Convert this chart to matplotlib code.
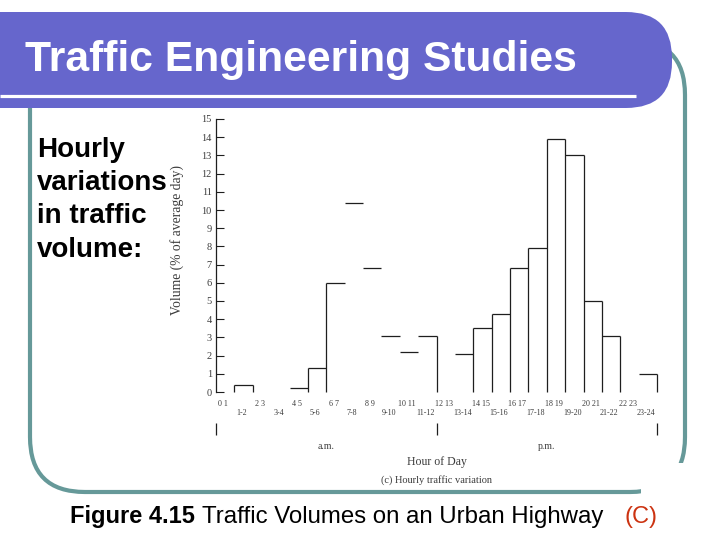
import matplotlib
matplotlib.use("Agg")
import matplotlib.pyplot as plt
from matplotlib.patches import FancyBboxPatch, Rectangle

# hourly volume, % of average day (hour 0-1 ... 23-24)
volumes = [0, 0.4, 0, 0, 0.2, 1.3, 6.0, 10.4, 6.8, 3.1, 2.2, 3.1,
           0, 2.1, 3.5, 4.3, 6.8, 7.9, 13.9, 13.0, 5.0, 3.1, 0, 1.0]
# bar sides that survived in the scanned figure
edges_drawn = [1, 2, 5, 6, 12, 14, 15, 16, 17, 18, 19, 20, 21, 22, 24]
hour_pairs = ["0 1", "2 3", "4 5", "6 7", "8 9", "10 11", "12 13",
              "14 15", "16 17", "18 19", "20 21", "22 23"]
hour_ranges = ["1-2", "3-4", "5-6", "7-8", "9-10", "11-12", "13-14",
               "15-16", "17-18", "19-20", "21-22", "23-24"]
side_text = ["Hourly", "variations", "in traffic", "volume:"]

SANS = "Liberation Sans"
SERIF = "Liberation Serif"
ink = "#1e1e1e"
gray = "#3c3c3c"

fig = plt.figure(figsize=(7.2, 5.4), dpi=100)

# slide background in pixel coordinates
bg = fig.add_axes([0, 0, 1, 1])
bg.set_xlim(0, 720)
bg.set_ylim(540, 0)
bg.axis("off")

frame = FancyBboxPatch((30, 40), 655, 452, boxstyle="round,pad=0,rounding_size=55",
                       fc="none", ec="#669999", lw=3)
bg.add_patch(frame)
bg.add_patch(Rectangle((641, 463), 60, 40, fc="white", ec="none"))
bar = FancyBboxPatch((-60, 12), 732, 96, boxstyle="round,pad=0,rounding_size=46",
                     fc="#6666CC", ec="none")
bg.add_patch(bar)
bg.plot([0, 636], [96, 96], color="white", lw=2.3, solid_capstyle="butt")

bg.text(25, 71, "Traffic Engineering Studies", color="white", fontsize=30.7,
        fontweight="bold", family=SANS, va="baseline")

for i, line in enumerate(side_text):
    bg.text(37, 157 + i * 33.2, line, fontsize=20, fontweight="bold",
            family=SANS, va="baseline", color="black")

bg.text(70, 523, "Figure 4.15", fontsize=17, fontweight="bold", family=SANS,
        va="baseline", color="black")
bg.text(202, 523, "Traffic Volumes on an Urban Highway", fontsize=17.3,
        family=SANS, va="baseline", color="black")
bg.text(625, 523, "(C)", fontsize=17, family=SANS, va="baseline", color="#CC3311")

# the histogram
ax = fig.add_axes([216 / 720, 148 / 540, 441 / 720, 273 / 540])
ax.patch.set_alpha(0)
ax.set_xlim(0, 24)
ax.set_ylim(0, 15)
for s in ["top", "right", "bottom"]:
    ax.spines[s].set_visible(False)
ax.spines["left"].set_linewidth(0.9)
ax.spines["left"].set_color(ink)

for h, v in enumerate(volumes):
    if v > 0:
        ax.hlines(v, h, h + 1, color=ink, lw=0.9, clip_on=False)
for e in edges_drawn:
    left = volumes[e - 1] if e >= 1 else 0
    right = volumes[e] if e < 24 else 0
    ax.vlines(e, 0, max(left, right), color=ink, lw=0.9, clip_on=False)

ax.set_yticks(range(16))
ax.set_xticks([])
ax.tick_params(axis="y", direction="in", length=6, width=0.8, color=ink,
               labelsize=7.5, labelcolor=gray, pad=3)
for t in ax.get_yticklabels():
    t.set_family(SERIF)
ax.set_ylabel("Volume (% of average day)", family=SERIF, fontsize=9.8, color=gray)
ax.yaxis.set_label_coords(-0.072, 0.557)

tr = ax.get_xaxis_transform()
for k, lab in enumerate(hour_pairs):
    ax.text(2 * k + 0.4, -0.044, lab, transform=tr, ha="center", va="center",
            family=SERIF, fontsize=5.8, color=gray)
for k, lab in enumerate(hour_ranges):
    ax.text(2 * k + 1.4, -0.077, lab, transform=tr, ha="center", va="center",
            family=SERIF, fontsize=5.8, color=gray)
ax.vlines([0, 12, 24], -0.114, -0.158, transform=tr, color=ink, lw=0.9, clip_on=False)
ax.text(6, -0.2, "a.m.", transform=tr, ha="center", va="center",
        family=SERIF, fontsize=7, color=gray)
ax.text(18, -0.2, "p.m.", transform=tr, ha="center", va="center",
        family=SERIF, fontsize=7, color=gray)
ax.text(12, -0.255, "Hour of Day", transform=tr, ha="center", va="center",
        family=SERIF, fontsize=8.5, color=gray)
ax.text(12, -0.324, "(c) Hourly traffic variation", transform=tr, ha="center",
        va="center", family=SERIF, fontsize=7.5, color=gray)

fig.savefig("out.png", dpi=100)
